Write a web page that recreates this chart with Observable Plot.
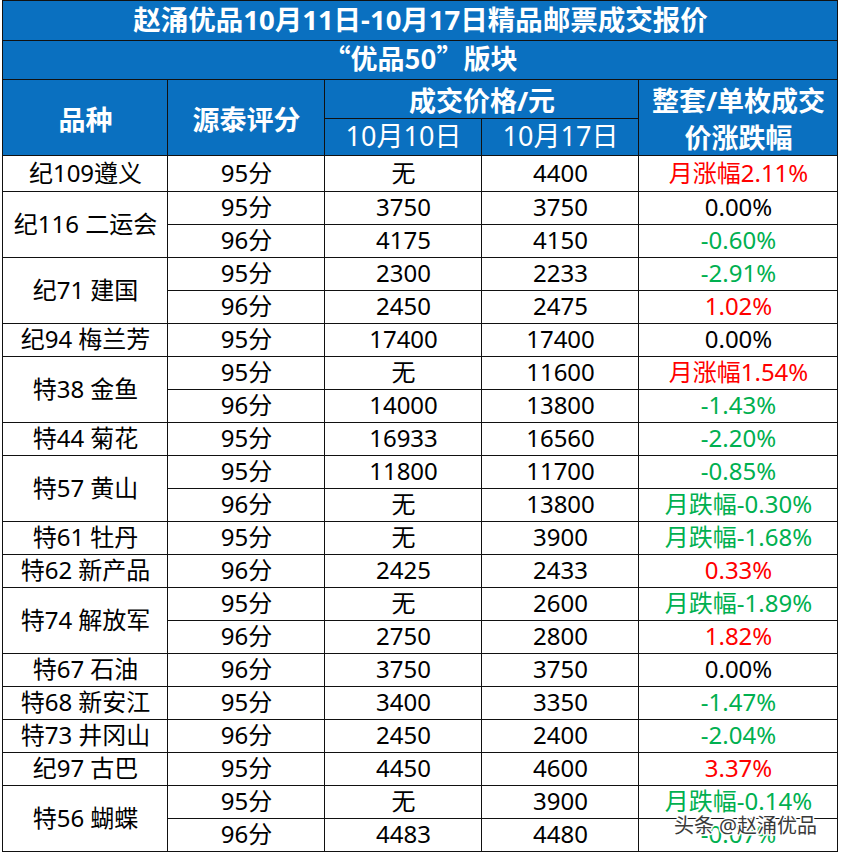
<!DOCTYPE html>
<html>
<head>
<meta charset="utf-8">
<script src="https://cdn.jsdelivr.net/npm/d3@7"></script>
<script src="https://cdn.jsdelivr.net/npm/@observablehq/plot@0.6"></script>
<style>
  html, body { margin: 0; padding: 0; background: #fff; }
</style>
</head>
<body>
<div id="chart"></div>
<script>
// ---------- data ----------
const titleText = "赵涌优品10月11日-10月17日精品邮票成交报价";
const subtitleText = "“优品50”版块";
const headers = ["品种", "源泰评分", "成交价格/元", "整套/单枚成交\n价涨跌幅"];
const dateLabels = ["10月10日", "10月17日"];
const varieties = ["纪109遵义", "纪116 二运会", "纪71 建国", "纪94 梅兰芳", "特38 金鱼", "特44 菊花", "特57 黄山", "特61 牡丹", "特62 新产品", "特74 解放军", "特67 石油", "特68 新安江", "特73 井冈山", "纪97 古巴", "特56 蝴蝶"];
const spans = [1, 2, 2, 1, 2, 1, 2, 1, 1, 2, 1, 1, 1, 1, 2];
const grades = ["95分","95分","96分","95分","96分","95分","95分","96分","95分","95分","96分","95分","96分","95分","96分","96分","95分","96分","95分","95分","96分"];
const priceOct10 = ["无","3750","4175","2300","2450","17400","无","14000","16933","11800","无","无","2425","无","2750","3750","3400","2450","4450","无","4483"];
const priceOct17 = ["4400","3750","4150","2233","2475","17400","11600","13800","16560","11700","13800","3900","2433","2600","2800","3750","3350","2400","4600","3900","4480"];
const changes = ["月涨幅2.11%","0.00%","-0.60%","-2.91%","1.02%","0.00%","月涨幅1.54%","-1.43%","-2.20%","-0.85%","月跌幅-0.30%","月跌幅-1.68%","0.33%","月跌幅-1.89%","1.82%","0.00%","-1.47%","-2.04%","3.37%","月跌幅-0.14%","-0.07%"];
const watermark = "头条 @赵涌优品";

// ---------- layout (styles) ----------
const W = 841, H = 855;
const colX = [2.5, 167.5, 324.5, 481.5, 638.5, 837.5];
const titleY = [0.5, 40.5], subY = [40.5, 79.5], headY = [79.5, 155.5], headMid = 118.5;
const bodyTop = 155.5, firstRowBottom = 191.5, rowH = 33;
const rowTop = i => i === 0 ? bodyTop : firstRowBottom + (i - 1) * rowH;
const rowBottom = i => firstRowBottom + i * rowH;
const BLUE = "#0A70C0", RED = "#FF0000", GREEN = "#00B050", BLACK = "#000";
const changeColor = s => s.startsWith("0.00") ? BLACK : (s.includes("-") ? GREEN : RED);
const FONT = "'Noto Sans', 'Noto Sans CJK SC', sans-serif";
const CJK = "'Noto Sans CJK SC', sans-serif";

// ---------- cells ----------
const titleCell = {x1: colX[0], x2: colX[5], y1: titleY[0], y2: titleY[1], label: titleText};
const subCell = {x1: colX[0], x2: colX[5], y1: subY[0], y2: subY[1], label: subtitleText};
const headBold = [
  {x1: colX[0], x2: colX[1], y1: headY[0], y2: headY[1], label: headers[0]},
  {x1: colX[1], x2: colX[2], y1: headY[0], y2: headY[1], label: headers[1]},
  {x1: colX[2], x2: colX[4], y1: headY[0], y2: headMid, label: headers[2]},
  {x1: colX[4], x2: colX[5], y1: headY[0], y2: headY[1], label: headers[3]}
];
const headNormal = dateLabels.map((d, k) => ({x1: colX[2 + k], x2: colX[3 + k], y1: headMid, y2: headY[1], label: d}));

const body = [];
let r = 0;
varieties.forEach((v, k) => {
  body.push({x1: colX[0], x2: colX[1], y1: rowTop(r), y2: rowBottom(r + spans[k] - 1), label: v, color: BLACK});
  r += spans[k];
});
grades.forEach((g, i) => {
  body.push({x1: colX[1], x2: colX[2], y1: rowTop(i), y2: rowBottom(i), label: g, color: BLACK});
  body.push({x1: colX[2], x2: colX[3], y1: rowTop(i), y2: rowBottom(i), label: priceOct10[i], color: BLACK});
  body.push({x1: colX[3], x2: colX[4], y1: rowTop(i), y2: rowBottom(i), label: priceOct17[i], color: BLACK});
  body.push({x1: colX[4], x2: colX[5], y1: rowTop(i), y2: rowBottom(i), label: changes[i], color: changeColor(changes[i])});
});
const headAll = [titleCell, subCell, ...headBold, ...headNormal];
const allCells = [...headAll, ...body];
const cx = d => (d.x1 + d.x2) / 2;
const cy = d => (d.y1 + d.y2) / 2;

const wm = [{x: 745, y: 826, label: watermark}];

const chart = Plot.plot({
  width: W,
  height: H,
  margin: 0,
  x: {type: "identity", axis: null},
  y: {type: "identity", axis: null},
  style: {fontFamily: FONT, background: "#fff"},
  marks: [
    Plot.rect(headAll, {x1: "x1", x2: "x2", y1: "y1", y2: "y2", fill: BLUE}),
    Plot.rect(allCells, {x1: "x1", x2: "x2", y1: "y1", y2: "y2", fill: "none", stroke: "#111", strokeWidth: 1}),
    Plot.text([titleCell], {x: cx, y: cy, text: "label", fill: "#fff", fontSize: 27.5, fontWeight: "bold"}),
    Plot.text([subCell], {x: cx, y: cy, text: "label", fill: "#fff", fontSize: 27, fontWeight: "bold", fontFamily: CJK}),
    Plot.text(headBold, {x: cx, y: cy, text: "label", fill: "#fff", fontSize: 27, fontWeight: "bold", lineHeight: 1.37}),
    Plot.text(headNormal, {x: cx, y: cy, text: "label", fill: "#fff", fontSize: 27}),
    Plot.text(body, {x: cx, y: cy, text: "label", fill: d => d.color, fontSize: 24}),
    Plot.text(wm, {x: "x", y: "y", text: "label", fill: "#3a3a3a", stroke: "#fff", strokeWidth: 3, fontSize: 20})
  ]
});
document.getElementById("chart").appendChild(chart);
</script>
</body>
</html>
